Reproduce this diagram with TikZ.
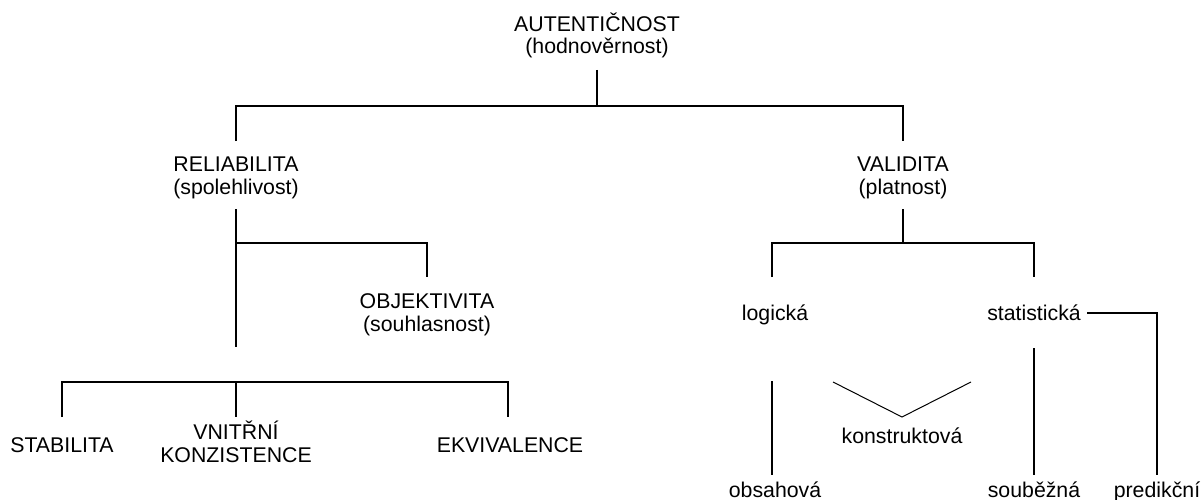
\documentclass[tikz,border=0pt]{standalone}
\usepackage{fontspec}
\setmainfont{Liberation Sans}
\begin{document}
\begin{tikzpicture}[x=1pt,y=-1pt,
  lbl/.style={font=\fontsize{21.3}{22.5}\selectfont, align=center, inner sep=0pt, anchor=base},
  conn/.style={line width=1.9pt, line cap=butt},
  thinconn/.style={line width=1pt}]
\useasboundingbox (0,0) rectangle (1201,500);

% labels (base anchor sits on the last line's baseline)
\node[lbl] (aut)  at (597,54)  {AUTENTIČNOST\\(hodnověrnost)};
\node[lbl] (rel)  at (236,194) {RELIABILITA\\(spolehlivost)};
\node[lbl] (val)  at (903,194) {VALIDITA\\(platnost)};
\node[lbl] (obj)  at (427,331) {OBJEKTIVITA\\(souhlasnost)};
\node[lbl] (stab) at (62,452)  {STABILITA};
\node[lbl] (vnit) at (236,462) {VNITŘNÍ\\KONZISTENCE};
\node[lbl] (ekv)  at (510,452) {EKVIVALENCE};
\node[lbl] (log)  at (775,320) {logická};
\node[lbl] (stat) at (1034,320) {statistická};
\node[lbl] (kon)  at (902,443) {konstruktová};
\node[lbl] (obs)  at (775,497) {obsahová};
\node[lbl] (soub) at (1034,497) {souběžná};
\node[lbl] (pred) at (1157,497) {predikční};

% branch points and free ends of the connectors
\coordinate (aut-a) at (597,70);
\coordinate (aut-b) at (597,106);
\coordinate (rel-t) at (236,141);
\coordinate (val-t) at (903,141);
\coordinate (rel-a) at (236,209);
\coordinate (rel-b) at (236,243);
\coordinate (rel-c) at (236,347);
\coordinate (obj-t) at (427,277);
\coordinate (low-c) at (236,382);
\coordinate (stab-t) at (62,417);
\coordinate (vnit-t) at (236,417);
\coordinate (ekv-t) at (508,417);
\coordinate (val-a) at (903,209);
\coordinate (val-b) at (903,243);
\coordinate (log-t) at (772,277);
\coordinate (stat-t) at (1034,277);
\coordinate (stat-r) at (1087,313);
\coordinate (pred-t) at (1157,475);
\coordinate (soub-a) at (1034,348);
\coordinate (soub-t) at (1034,475);
\coordinate (obs-a) at (772,381);
\coordinate (obs-t) at (772,475);
\coordinate (kon-l) at (833,382);
\coordinate (kon-t) at (902,417);
\coordinate (kon-r) at (971,382);

% top level
\draw[conn] (aut-a) -- (aut-b);
\draw[conn] (rel-t) |- (aut-b) -| (val-t);

% reliability branch
\draw[conn] (rel-a) -- (rel-c);
\draw[conn] (rel-b) -| (obj-t);
\draw[conn] (stab-t) |- (low-c) -| (ekv-t);
\draw[conn] (low-c) -- (vnit-t);

% validity branch
\draw[conn] (val-a) -- (val-b);
\draw[conn] (log-t) |- (val-b) -| (stat-t);
\draw[conn] (stat-r) -| (pred-t);
\draw[conn] (soub-a) -- (soub-t);
\draw[conn] (obs-a) -- (obs-t);
\draw[thinconn] (kon-l) -- (kon-t) -- (kon-r);
\end{tikzpicture}
\end{document}
